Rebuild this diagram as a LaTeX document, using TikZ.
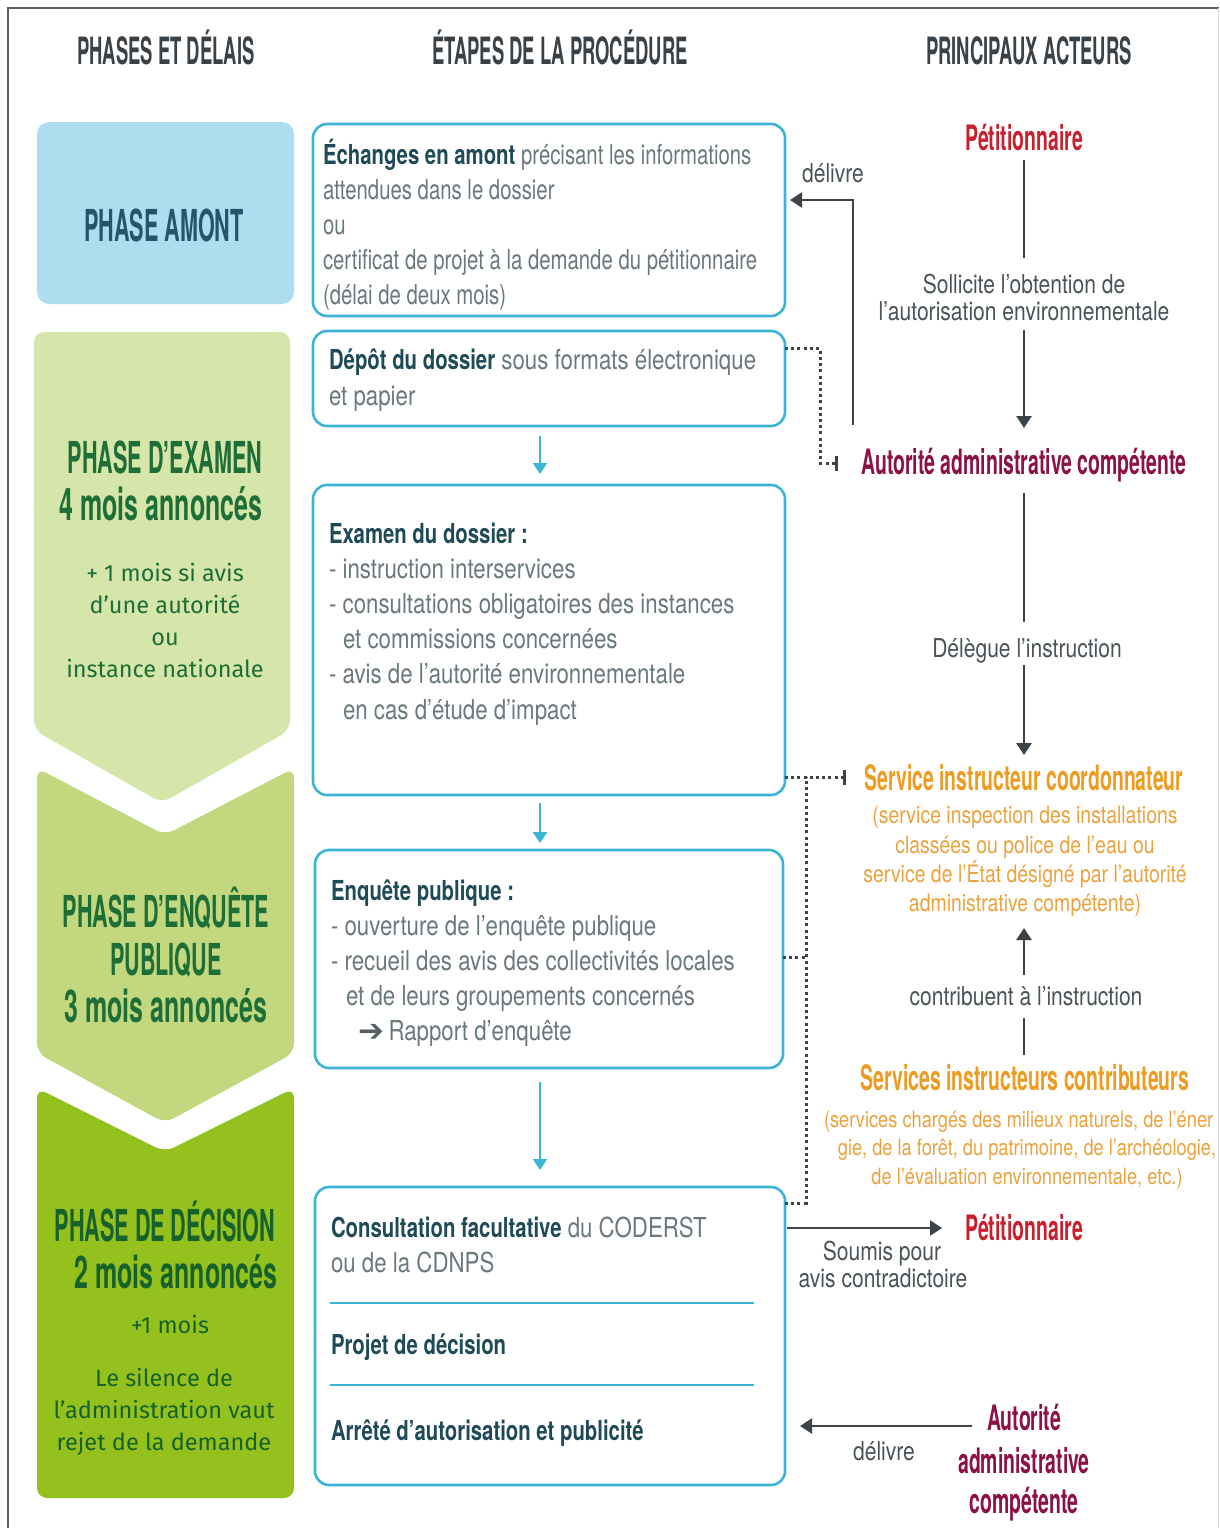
\documentclass[tikz,border=0pt]{standalone}
\usepackage{fontspec}
\setmainfont{TeX Gyre Heros}
\newfontfamily\fR[FakeStretch=0.81]{TeX Gyre Heros}
\newfontfamily\fB[FakeStretch=0.74]{TeX Gyre Heros}
\newfontfamily\fN[FakeStretch=0.74]{TeX Gyre Heros}
\newfontfamily\fC[FakeStretch=0.555]{TeX Gyre Heros}
\newfontfamily\fH[FakeStretch=0.49]{TeX Gyre Heros}
\newfontfamily\fF{Fira Sans}
\newfontfamily\fD{DejaVu Sans}
\usetikzlibrary{arrows.meta,calc}
\newcommand\fsz[1]{\fontsize{#1}{#1}\selectfont}
\newcommand\tbold[1]{{\fB\bfseries\color{tealb}#1}}
\newcommand\tboldN[1]{{\bfseries\color{tealb}#1}}
\definecolor{cyanb}{HTML}{3CB4D4}
\definecolor{tealb}{HTML}{1F4B58}
\definecolor{grayb}{HTML}{6B797F}
\definecolor{darkl}{HTML}{3C4449}
\definecolor{hdrc}{HTML}{3B4247}
\definecolor{redc}{HTML}{C8202D}
\definecolor{maroonc}{HTML}{8C1147}
\definecolor{orangeh}{HTML}{EE9B22}
\definecolor{orangel}{HTML}{ECA23C}
\definecolor{amontc}{HTML}{ADDDEE}
\definecolor{amontt}{HTML}{24566A}
\definecolor{examc}{HTML}{D6E5A9}
\definecolor{enqc}{HTML}{C3D77E}
\definecolor{decc}{HTML}{95C11F}
\definecolor{greent}{HTML}{1D6E37}
\definecolor{greend}{HTML}{17612B}
\definecolor{darkt}{HTML}{4A5358}
\tikzset{
  every node/.style={inner sep=0pt, outer sep=0pt},
  bodyl/.style={anchor=base west, text=grayb, font=\fR\fsz{27.5}},
  boxonel/.style={anchor=base west, text=grayb, font=\fN\fsz{27.5}},
  hdr/.style={anchor=base, text=hdrc, font=\fH\bfseries\fsz{37.6}},
  ptitle/.style={anchor=base, font=\fH\bfseries\fsz{44}},
  pmois/.style={anchor=base, font=\fC\bfseries\fsz{45}},
  psmall/.style={anchor=base, font=\fF\fsz{23.5}},
  actor/.style={anchor=base, font=\fC\bfseries\fsz{35}},
  rtext/.style={anchor=base, text=darkt, font=\fR\fsz{26}},
  otext/.style={anchor=base, text=orangel, font=\fR\fsz{24}},
  otexts/.style={anchor=base, text=orangel, font=\fR\fsz{22.5}},
  stage/.style={draw=cyanb, line width=2.6pt, rounded corners=14pt, minimum width=472pt, anchor=north west, fill=white},
  darr/.style={draw=darkl, line width=2.6pt, -{Triangle[width=15pt,length=12pt]}},
  dline/.style={draw=darkl, line width=2.6pt},
  carr/.style={draw=cyanb, line width=2.2pt, -{Triangle[width=14pt,length=11pt]}},
  dotl/.style={draw=darkl, line width=3pt, dash pattern=on 3pt off 3.2pt},
  tickend/.style={-{Bar[width=15pt,line width=3.2pt]}},
  sepl/.style={draw=cyanb, line width=2.4pt}
}
\begin{document}
\begin{tikzpicture}[x=1pt,y=-1pt]
\useasboundingbox (0,0) rectangle (1219,1528);
\fill[white] (0,0) rectangle (1219,1528);
% frame
\draw[gray!75!black, line width=1.6pt] (8,1528) -- (8,8) -- (1219,8);
\draw[gray!30, line width=1pt] (1218,8) -- (1218,1528);

% headers
\node[hdr] (h1) at (166,64) {PHASES ET DÉLAIS};
\node[hdr] (h2) at (560,64) {ÉTAPES DE LA PROCÉDURE};
\node[hdr] (h3) at (1029,64) {PRINCIPAUX ACTEURS};

% left phase shapes
\fill[amontc, rounded corners=12pt] (37,122) rectangle (294,304);
\fill[examc, rounded corners=10pt] (34,332) -- (290,332) -- (290,730) -- (162,803) -- (34,730) -- cycle;
\fill[enqc, rounded corners=10pt] (37,768) -- (165,835) -- (294,768) -- (294,1053) -- (165,1123) -- (37,1053) -- cycle;
\fill[decc, rounded corners=10pt] (37,1088) -- (165,1152) -- (294,1088) -- (294,1498) -- (37,1498) -- cycle;

\node[ptitle, text=amontt] (pa) at (164,241) {PHASE AMONT};
\node[ptitle, text=greent] (pe1) at (165,473) {PHASE D’EXAMEN};
\node[pmois, text=greent] (pe2) at (161,520) {4 mois annoncés};
\node[psmall, text=greent] (pe3) at (165,581) {+ 1 mois si avis};
\node[psmall, text=greent] (pe4) at (165,613) {d’une autorité};
\node[psmall, text=greent] (pe5) at (165,645) {ou};
\node[psmall, text=greent] (pe6) at (165,677) {instance nationale};
\node[ptitle, text=greent] (pq1) at (166,927) {PHASE D’ENQUÊTE};
\node[ptitle, text=greent] (pq2) at (166,975) {PUBLIQUE};
\node[pmois, text=greent] (pq3) at (166,1022) {3 mois annoncés};
\node[ptitle, text=greend] (pd1) at (165,1241) {PHASE DE DÉCISION};
\node[pmois, text=greend] (pd2) at (176,1288) {2 mois annoncés};
\node[psmall, text=greend] (pd3) at (170,1333) {+1 mois};
\node[psmall, text=greend] (pd4) at (164,1386) {Le silence de};
\node[psmall, text=greend] (pd5) at (164,1418) {l’administration vaut};
\node[psmall, text=greend] (pd6) at (164,1450) {rejet de la demande};

% stage boxes
\node[stage, minimum height=192pt] (b1) at (313,124) {};
\node[stage, minimum height=95pt] (b2) at (313,331) {};
\node[stage, minimum height=310pt] (b3) at (313,485) {};
\node[stage, minimum width=468pt, minimum height=218pt] (b4) at (315,850) {};
\node[stage, minimum width=470pt, minimum height=298pt] (b5) at (315,1187) {};
\draw[sepl] ($(b5.north west)+(15,116)$) -- ++(424,0);
\draw[sepl] ($(b5.north west)+(15,198)$) -- ++(424,0);

% box texts
\node[boxonel] (t11) at (323,164) {\tboldN{Échanges en amont} précisant les informations};
\node[boxonel] (t12) at (323,199) {attendues dans le dossier};
\node[boxonel] (t13) at (323,234) {ou};
\node[boxonel] (t14) at (323,269) {certificat de projet à la demande du pétitionnaire};
\node[boxonel] (t15) at (323,304) {(délai de deux mois)};

\node[bodyl] (t21) at (329,369) {\tbold{Dépôt du dossier} sous formats électronique};
\node[bodyl] (t22) at (329,405) {et papier};

\node[bodyl] (t31) at (329,543) {\tbold{Examen du dossier :}};
\node[bodyl] (t32) at (329,578) {- instruction interservices};
\node[bodyl] (t33) at (329,613) {- consultations obligatoires des instances};
\node[bodyl] (t34) at (343,648) {et commissions concernées};
\node[bodyl] (t35) at (329,683) {- avis de l’autorité environnementale};
\node[bodyl] (t36) at (343,719) {en cas d’étude d’impact};

\node[bodyl] (t41) at (331,900) {\tbold{Enquête publique :}};
\node[bodyl] (t42) at (331,935) {- ouverture de l’enquête publique};
\node[bodyl] (t43) at (331,970) {- recueil des avis des collectivités locales};
\node[bodyl] (t44) at (346,1005) {et de leurs groupements concernés};
\node[bodyl] (t45) at (358,1040) {{\fD\bfseries\fsz{31}\color{darkl!85}\raisebox{-1pt}{➔}}\,Rapport d’enquête};

\node[bodyl] (t51) at (331,1237) {\tbold{Consultation facultative} du CODERST};
\node[bodyl] (t52) at (331,1272) {ou de la CDNPS};
\node[bodyl] (t53) at (331,1354) {\tbold{Projet de décision}};
\node[bodyl] (t54) at (331,1440) {\tbold{Arrêté d’autorisation et publicité}};

% cyan flow arrows
\coordinate (ax) at (540,0);
\draw[carr] ($(b2.south -| ax)+(0,10)$) -- ($(b3.north -| ax)+(0,-11)$);
\draw[carr] ($(b3.south -| ax)+(0,8)$) -- ($(b4.north -| ax)+(0,-7)$);
\draw[carr] ($(b4.south -| ax)+(0,14)$) -- ($(b5.north -| ax)+(0,-17)$);

% actors
\node[actor, text=redc] (pet) at (1024,150) {Pétitionnaire};
\node[rtext] (sol1) at (1024,293) {Sollicite l’obtention de};
\node[rtext] (sol2) at (1024,320) {l’autorisation environnementale};
\node[actor, text=maroonc] (aut) at (1024,474) {Autorité administrative compétente};
\node[rtext] (del) at (1027,657) {Délègue l’instruction};
\node[actor, text=orangeh] (sic) at (1024,790) {Service instructeur coordonnateur};
\node[otext] (sic1) at (1025,823) {(service inspection des installations};
\node[otext] (sic2) at (1025,853) {classées ou police de l’eau ou};
\node[otext] (sic3) at (1025,882) {service de l’État désigné par l’autorité};
\node[otext] (sic4) at (1025,911) {administrative compétente)};
\node[rtext] (con) at (1026,1005) {contribuent à l’instruction};
\node[actor, text=orangeh] (sco) at (1025,1090) {Services instructeurs contributeurs};
\begin{scope}
\clip (0,0) rectangle (1218,1528);
\node[otexts, anchor=base west] (sco1) at (824,1127) {(services chargés des milieux naturels, de l’éner};
\end{scope}
\node[otexts] (sco2) at (1027,1155) {gie, de la forêt, du patrimoine, de l’archéologie,};
\node[otexts] (sco3) at (1027,1184) {de l’évaluation environnementale, etc.)};
\node[actor, text=redc] (pet2) at (1024,1240) {Pétitionnaire};
\node[rtext] (sou1) at (882,1260) {Soumis pour};
\node[rtext] (sou2) at (883,1287) {avis contradictoire};
\node[actor, text=maroonc] (aut2a) at (1024,1430) {Autorité};
\node[actor, text=maroonc] (aut2b) at (1024,1473) {administrative};
\node[actor, text=maroonc] (aut2c) at (1024,1513) {compétente};
\node[rtext] (dlv1) at (833,182) {délivre};
\node[rtext] (dlv2) at (884,1460) {délivre};

% actor connectors
\draw[dline] ($(pet.base)+(0,10)$) -- ($(sol1.base)+(0,-35)$);
\draw[darr] ($(sol2.base)+(0,10)$) -- ($(aut.base)+(0,-46)$);
\draw[dline] ($(aut.base)+(0,19)$) -- ($(del.base -| aut.base)+(0,-35)$);
\draw[darr] ($(del.base -| aut.base)+(0,8)$) -- ($(sic.base -| aut.base)+(0,-35)$);
\draw[darr] ($(con.base -| aut.base)+(0,-30)$) -- ($(sic4.base -| aut.base)+(0,17)$);
\draw[dline] ($(con.base -| aut.base)+(0,13)$) -- ($(sco.base -| aut.base)+(0,-35)$);
\draw[darr] ($(aut.base)+(-171,-49)$) |- ($(b1.east)+(5,-20)$);
\draw[darr] ($(b5.north east)+(2,41)$) -- ($(pet2.base)+(-82,-12)$);
\draw[darr] ($(aut2a.base)+(-52,-4)$) -- ($(b5.east)+(15,90)$);

% dotted links
\draw[dotl, tickend] ($(b2.east)+(0,-30)$) -- ++(35,0) |- ($(aut.base)+(-186,-11)$);
\draw[dotl, tickend] ($(b3.east)+(0,137)$) -- ($(sic.base)+(-178,-13)$);
\draw[dotl] ($(b4.east)+(0,-2)$) -- ++(23,0);
\draw[dotl] ($(b5.north east)+(0,16)$) -- ++(21,0) -- ++(0,-426);
\end{tikzpicture}
\end{document}
